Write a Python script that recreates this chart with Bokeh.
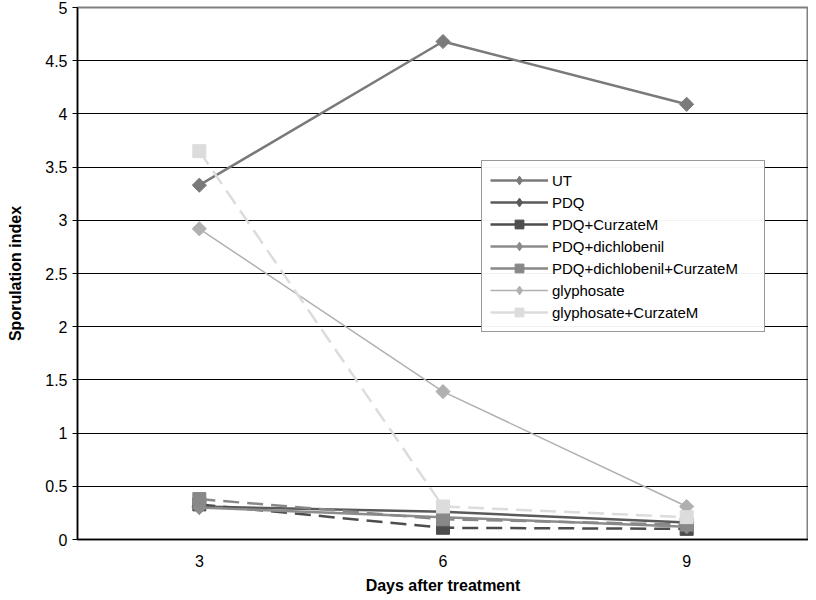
import math
from bokeh.plotting import figure
from bokeh.models import FactorRange, Range1d, FixedTicker, Legend, LegendItem, ColumnDataSource
from bokeh.embed import file_html
from bokeh.resources import INLINE

days = ["3", "6", "9"]
names = ["UT", "PDQ", "PDQ+CurzateM", "PDQ+dichlobenil",
         "PDQ+dichlobenil+CurzateM", "glyphosate", "glyphosate+CurzateM"]
ut = [3.33, 4.68, 4.09]
pdq = [0.31, 0.26, 0.16]
pdq_curz = [0.33, 0.11, 0.10]
pdq_dich = [0.30, 0.21, 0.12]
pdq_dich_curz = [0.38, 0.19, 0.14]
gly = [2.92, 1.39, 0.31]
gly_curz = [3.65, 0.31, 0.21]
series = [ut, pdq, pdq_curz, pdq_dich, pdq_dich_curz, gly, gly_curz]
y_ticks = [0, 0.5, 1, 1.5, 2, 2.5, 3, 3.5, 4, 4.5, 5]
y_tick_labels = ["0", "0.5", "1", "1.5", "2", "2.5", "3", "3.5", "4", "4.5", "5"]

colors = ["#7a7a7a", "#5a5a5a", "#4d4d4d", "#8c8c8c", "#888888", "#b0b0b0", "#dcdcdc"]
markers = ["diamond", "diamond", "square", "diamond", "square", "diamond", "square"]
dashes = ["solid", "solid", "16 8", "solid", "16 8", "solid", "16 8"]
widths = [2.5, 2.5, 2.5, 2.5, 2.5, 1.5, 2.5]

FONT = "Liberation Sans"

p = figure(width=808, height=596, x_range=FactorRange(*days), y_range=Range1d(0, 5),
           output_backend="svg", toolbar_location=None,
           min_border_left=77, min_border_right=0, min_border_top=7, min_border_bottom=52)
p.outline_line_color = "#808080"
p.outline_line_width = 2
p.background_fill_color = "white"
p.border_fill_color = "white"

p.xgrid.grid_line_color = None
p.ygrid.grid_line_color = "black"
p.ygrid.grid_line_width = 1
p.ygrid.grid_line_alpha = 1

p.yaxis.ticker = FixedTicker(ticks=y_ticks)
p.yaxis.major_label_overrides = {t: l for t, l in zip(y_ticks, y_tick_labels)}
p.yaxis.minor_tick_line_color = None
p.yaxis.major_tick_out = 5
p.yaxis.major_tick_in = 0
p.yaxis.major_tick_line_color = "black"
p.yaxis.axis_line_color = "black"
p.yaxis.axis_line_width = 1.5
p.yaxis.major_label_text_font = FONT
p.yaxis.major_label_text_font_size = "16px"
p.yaxis.major_label_text_color = "black"
p.yaxis.major_label_standoff = 5
p.yaxis.axis_label = "Sporulation index"
p.yaxis.axis_label_text_font = FONT
p.yaxis.axis_label_text_font_size = "16px"
p.yaxis.axis_label_text_font_style = "bold"
p.yaxis.axis_label_text_color = "black"
p.yaxis.axis_label_standoff = 18

p.xaxis.major_tick_line_color = None
p.xaxis.axis_line_color = "black"
p.xaxis.axis_line_width = 1.5
p.xaxis.major_label_text_font = FONT
p.xaxis.major_label_text_font_size = "16px"
p.xaxis.major_label_text_color = "black"
p.xaxis.major_label_standoff = 9
p.xaxis.axis_label = "Days after treatment"
p.xaxis.axis_label_text_font = FONT
p.xaxis.axis_label_text_font_size = "16px"
p.xaxis.axis_label_text_font_style = "bold"
p.xaxis.axis_label_text_color = "black"
p.xaxis.axis_label_standoff = 7

nan = float("nan")
items = []
for name, vals, c, m, d, w in zip(names, series, colors, markers, dashes, widths):
    src = ColumnDataSource(dict(x=days, y=vals))
    p.line("x", "y", source=src, line_color=c, line_width=w, line_dash=d)
    if m == "diamond":
        p.scatter("x", "y", source=src, marker="square", size=10, angle=math.pi / 4,
                  fill_color=c, line_color=c)
    else:
        p.scatter("x", "y", source=src, marker="square", size=13,
                  fill_color=c, line_color=c)
    # legend-only renderers (no visible data): solid line + marker
    empty = [nan] * len(days)
    leg_line = p.line(x=days, y=empty, line_color=c, line_width=w)
    leg_mark = p.scatter(x=days, y=empty, marker=m, fill_color=c, line_color=c)
    items.append(LegendItem(label=name, renderers=[leg_line, leg_mark]))

legend = Legend(items=items, location=(404, 207))
legend.border_line_color = "#333333"
legend.border_line_width = 1.5
legend.background_fill_color = "white"
legend.label_text_font = FONT
legend.label_text_font_size = "15px"
legend.label_text_color = "black"
legend.glyph_width = 58
legend.glyph_height = 22
legend.label_height = 22
legend.label_width = 204
legend.spacing = 0
legend.padding = 8
legend.margin = 0
legend.label_standoff = 4
p.add_layout(legend, "center")

open("out.html", "w").write(file_html(p, INLINE))
